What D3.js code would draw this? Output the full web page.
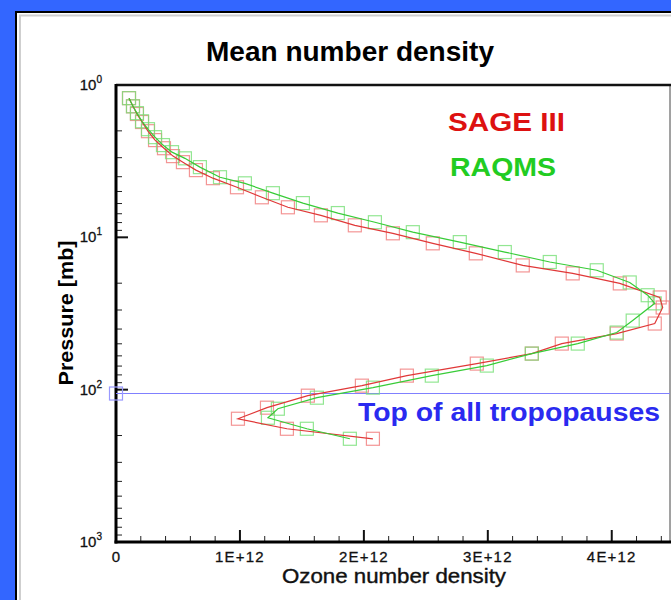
<!DOCTYPE html>
<html><head><meta charset="utf-8">
<script src="https://cdn.jsdelivr.net/npm/d3@7"></script>
<style>html,body{margin:0;padding:0;background:#3366ff;}svg{display:block;}</style>
</head><body>
<svg id="chart" width="671" height="600"></svg>
<script>
// ---- data (number density in units of 1E+12, pressure in mb) ----
const sagePressure = [1.22,1.38,1.55,1.75,2.01,2.30,2.60,2.93,3.21,3.62,4.09,4.69,5.46,6.35,7.17,8.34,9.41,10.95,12.74,15.29,17.25,20.07,24.81,28.88,36.80,42.82,49.83,57.98,67.45,80.89,94.12,109.5,131.3,155.2,180.6,210.1];
const sageDensity  = [0.105,0.137,0.169,0.210,0.258,0.315,0.387,0.460,0.540,0.645,0.782,0.976,1.177,1.387,1.653,1.927,2.234,2.556,2.903,3.282,3.685,4.065,4.387,4.411,4.347,4.040,3.597,3.355,2.911,2.347,1.984,1.548,1.218,0.984,1.379,2.073];
const raqmsPressure = [1.22,1.38,1.53,1.73,1.95,2.20,2.48,2.76,3.03,3.46,4.03,4.42,5.13,5.96,6.93,7.96,9.25,10.75,12.49,14.52,16.45,19.78,23.99,27.12,35.2,42.17,49.83,57.98,69.5,80.89,97.0,112.9,133.4,152.9,180.6,210.1];
const raqmsDensity  = [0.105,0.137,0.169,0.210,0.258,0.315,0.379,0.452,0.556,0.677,0.839,1.040,1.266,1.508,1.790,2.089,2.395,2.774,3.137,3.500,3.879,4.145,4.290,4.347,4.169,4.040,3.726,3.355,2.992,2.548,2.073,1.621,1.306,1.226,1.540,1.887];
const tropopausePressure = 106;
const xTickValues = [0,1,2,3,4];
const xTickLabels = ["0","1E+12","2E+12","3E+12","4E+12"];
const yTickExponents = [0,1,2,3];
const seriesNames = ["SAGE III","RAQMS"];

const svg = d3.select("#chart");
const W = 671, H = 600;
const L = 116, R = 670, T = 85, B = 542;
const FONT = "Liberation Sans, Arial, Helvetica, sans-serif";

// frame
svg.append("rect").attr("x",0).attr("y",0).attr("width",W).attr("height",H).attr("fill","#3366ff");
svg.append("rect").attr("x",16).attr("y",12).attr("width",W).attr("height",H).attr("fill","#fff").attr("stroke","#000").attr("stroke-width",2);
svg.append("path").attr("d",`M20,${H} V15.5 H${W}`).attr("fill","none").attr("stroke","#cfcfcf").attr("stroke-width",2);

const x = d3.scaleLinear().domain([0,4.47]).range([L,R]);
const y = d3.scaleLog().domain([1,1000]).range([T,B]);

// title
svg.append("text").attr("x",350).attr("y",61).attr("text-anchor","middle")
  .attr("font-family",FONT).attr("font-weight","bold").attr("font-size",27)
  .attr("textLength",288).attr("lengthAdjust","spacingAndGlyphs").text("Mean number density");

// plot box right & top
svg.append("line").attr("x1",R).attr("x2",R).attr("y1",T).attr("y2",B).attr("stroke","#444").attr("stroke-width",1);
svg.append("line").attr("x1",L).attr("x2",R+2).attr("y1",T).attr("y2",T).attr("stroke","#111").attr("stroke-width",2.5);

// x axis (ticks inward)
const xMinor = d3.range(0,4.47,0.2).filter(v=>Math.abs(v-Math.round(v))>1e-6);
const gx = svg.append("g");
gx.selectAll("line.mn").data(xMinor).join("line").attr("x1",d=>x(d)).attr("x2",d=>x(d)).attr("y1",B).attr("y2",B-6).attr("stroke","#222").attr("stroke-width",1);
gx.selectAll("line.mj").data(xTickValues).join("line").attr("x1",d=>x(d)).attr("x2",d=>x(d)).attr("y1",B).attr("y2",B-12).attr("stroke","#111").attr("stroke-width",2);
gx.selectAll("text").data(xTickValues).join("text").attr("x",d=>x(d)).attr("y",562).attr("text-anchor","middle")
  .attr("font-family",FONT).attr("font-size",15).attr("letter-spacing",d=>d===0?0:1.2)
  .attr("fill","#111").attr("stroke","#111").attr("stroke-width",0.3).text((d,i)=>xTickLabels[i]);

// y axis (ticks inward)
const yMinor = [];
[1,10,100].forEach(b=>{for(let k=2;k<=9;k++) yMinor.push(b*k);});
const gy = svg.append("g");
gy.selectAll("line.mn").data(yMinor).join("line").attr("x1",L).attr("x2",L+6).attr("y1",d=>y(d)).attr("y2",d=>y(d)).attr("stroke","#222").attr("stroke-width",1);
gy.selectAll("line.mj").data(yTickExponents).join("line").attr("x1",L).attr("x2",L+12).attr("y1",d=>y(Math.pow(10,d))).attr("y2",d=>y(Math.pow(10,d))).attr("stroke","#111").attr("stroke-width",2);
const yl = gy.selectAll("text").data(yTickExponents).join("text").attr("x",102).attr("y",d=>y(Math.pow(10,d))+5).attr("text-anchor","end")
  .attr("font-family",FONT).attr("font-size",15).attr("fill","#111").attr("stroke","#111").attr("stroke-width",0.3);
yl.append("tspan").text("10");
yl.append("tspan").attr("font-size",10).attr("dy",-7).text(d=>d);

// axis lines
svg.append("line").attr("x1",L).attr("x2",L).attr("y1",T-1).attr("y2",B+1.5).attr("stroke","#000").attr("stroke-width",3);
svg.append("line").attr("x1",L-1.5).attr("x2",R+1).attr("y1",B).attr("y2",B).attr("stroke","#000").attr("stroke-width",3);

// axis titles
svg.append("text").attr("transform","translate(73,313) rotate(-90)").attr("text-anchor","middle")
  .attr("font-family",FONT).attr("font-weight","bold").attr("font-size",20)
  .attr("textLength",145).attr("lengthAdjust","spacingAndGlyphs").text("Pressure [mb]");
svg.append("text").attr("x",394).attr("y",583).attr("text-anchor","middle")
  .attr("font-family",FONT).attr("font-size",21).attr("fill","#111").attr("stroke","#111").attr("stroke-width",0.4)
  .attr("textLength",224).attr("lengthAdjust","spacingAndGlyphs").text("Ozone number density");

// tropopause line
svg.append("line").attr("x1",L).attr("x2",R).attr("y1",y(tropopausePressure)).attr("y2",y(tropopausePressure)).attr("stroke","#8080ff").attr("stroke-width",1.2);
svg.append("rect").attr("x",L-6.5).attr("y",y(tropopausePressure)-6.5).attr("width",13).attr("height",13).attr("fill","none").attr("stroke","#9999ff").attr("stroke-width",1.2);
svg.append("text").attr("x",358).attr("y",421).attr("font-family",FONT).attr("font-weight","bold")
  .attr("font-size",25).attr("fill","#2a2af0").attr("textLength",302).attr("lengthAdjust","spacingAndGlyphs").text("Top of all tropopauses");

// series
svg.append("clipPath").attr("id","pc").append("rect").attr("x",L).attr("y",T).attr("width",R-L+2).attr("height",B-T);
const series = [
  {p:sagePressure, v:sageDensity, line:"#e03838", box:"#f07a7a"},
  {p:raqmsPressure, v:raqmsDensity, line:"#38cc38", box:"#77e077"}
];
const line = d3.line().x(d=>x(d[0])).y(d=>y(d[1]));
const gs = svg.append("g").attr("clip-path","url(#pc)");
series.forEach(s=>{
  const pts = s.v.map((v,i)=>[v,s.p[i]]);
  gs.append("g").selectAll("rect").data(pts).join("rect")
    .attr("x",d=>x(d[0])-6.5).attr("y",d=>y(d[1])-6.5).attr("width",13).attr("height",13)
    .attr("fill","none").attr("stroke",s.box).attr("stroke-width",1.2).attr("stroke-opacity",0.8);
});
series.forEach(s=>{
  const pts = s.v.map((v,i)=>[v,s.p[i]]);
  gs.append("path").datum(pts).attr("d",line).attr("fill","none").attr("stroke",s.line).attr("stroke-width",1.2);
});

// legend
svg.append("text").attr("x",448).attr("y",131).attr("font-family",FONT).attr("font-weight","bold")
  .attr("font-size",26).attr("fill","#dd1111").attr("textLength",117).attr("lengthAdjust","spacingAndGlyphs").text(seriesNames[0]);
svg.append("text").attr("x",450).attr("y",176).attr("font-family",FONT).attr("font-weight","bold")
  .attr("font-size",26).attr("fill","#22cc22").attr("textLength",106).attr("lengthAdjust","spacingAndGlyphs").text(seriesNames[1]);
</script>
</body></html>
